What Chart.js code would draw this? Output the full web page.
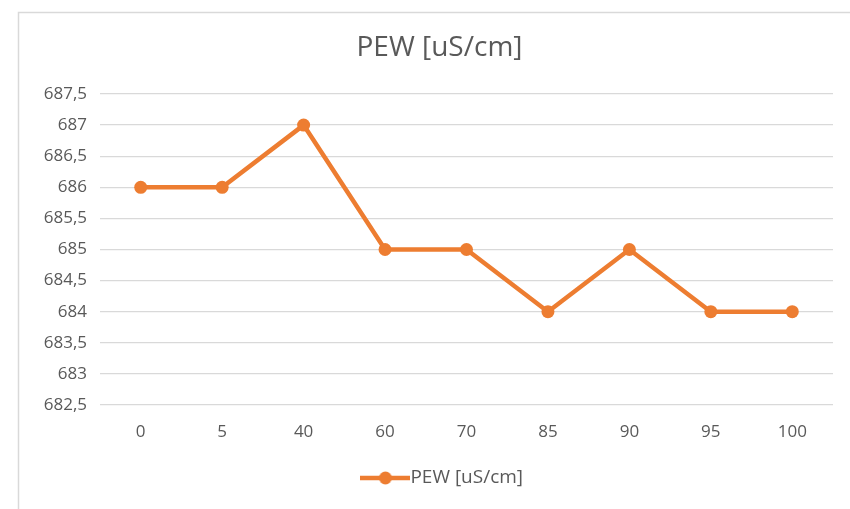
<!DOCTYPE html>
<html>
<head>
<meta charset="utf-8">
<script src="https://cdn.jsdelivr.net/npm/chart.js@4.4.1/dist/chart.umd.min.js"></script>
<style>
  html, body { margin: 0; padding: 0; background: #ffffff; }
  #wrap { width: 850px; height: 509px; position: relative; }
</style>
</head>
<body>
<div id="wrap"><canvas id="c" width="850" height="509"></canvas></div>
<script>
const categories = ['0', '5', '40', '60', '70', '85', '90', '95', '100'];
const pewValues = [686, 686, 687, 685, 685, 684, 685, 684, 684];
const seriesLabel = 'PEW [uS/cm]';
const chartTitle = 'PEW [uS/cm]';
const yMin = 682.5, yMax = 687.5, yStep = 0.5;

const ORANGE = '#ED7D31';
const TEXT = '#595959';
const FONT = "'Open Sans', sans-serif";

// legend marker: line with a dot
const marker = document.createElement('canvas');
marker.width = 50; marker.height = 14;
(function () {
  const m = marker.getContext('2d');
  m.strokeStyle = ORANGE; m.lineWidth = 4.5;
  m.beginPath(); m.moveTo(0, 7); m.lineTo(50, 7); m.stroke();
  m.fillStyle = ORANGE;
  m.beginPath(); m.arc(25, 7, 6.5, 0, Math.PI * 2); m.fill();
})();

const borderPlugin = {
  id: 'bgBorder',
  beforeDraw(chart) {
    const ctx = chart.ctx;
    ctx.save();
    ctx.fillStyle = '#ffffff';
    ctx.fillRect(0, 0, chart.width, chart.height);
    ctx.strokeStyle = '#d9d9d9';
    ctx.lineWidth = 1.5;
    ctx.strokeRect(18.5, 12.5, 1000, 1000);
    ctx.restore();
  }
};

// centre title and legend on the (partly cropped) chart frame
const boxShift = {
  id: 'boxShift',
  afterLayout(chart) {
    const lg = chart.legend;
    if (lg) { lg.left += 30; lg.right += 30; }
    const tt = chart.titleBlock;
    if (tt) { tt.left += 23; tt.right += 23; }
  }
};

new Chart(document.getElementById('c'), {
  type: 'line',
  data: {
    labels: categories,
    datasets: [{
      label: seriesLabel,
      data: pewValues,
      borderColor: ORANGE,
      backgroundColor: ORANGE,
      borderWidth: 4.5,
      pointRadius: 6.5,
      pointHoverRadius: 6.5,
      pointBackgroundColor: ORANGE,
      pointBorderColor: ORANGE,
      pointBorderWidth: 0,
      tension: 0,
      pointStyle: 'circle'
    }]
  },
  options: {
    responsive: false,
    animation: false,
    devicePixelRatio: 1,
    layout: { padding: { top: 20, left: 0, right: 17, bottom: 11.5 } },
    plugins: {
      title: {
        display: true,
        text: chartTitle,
        color: TEXT,
        font: { family: FONT, size: 28, weight: 'normal', lineHeight: 1.2 },
        padding: { top: 11, bottom: 29.4 }
      },
      legend: {
        display: true,
        position: 'bottom',
        labels: {
          color: TEXT,
          font: { family: FONT, size: 19 },
          usePointStyle: true,
          pointStyleWidth: 31,
          padding: 21.5,
          generateLabels(chart) {
            return [{
              text: seriesLabel,
              pointStyle: marker,
              fillStyle: ORANGE,
              strokeStyle: ORANGE,
              lineWidth: 0,
              datasetIndex: 0,
              fontColor: TEXT
            }];
          }
        }
      },
      tooltip: { enabled: false }
    },
    scales: {
      x: {
        offset: true,
        grid: { display: false, drawTicks: false },
        border: { display: false },
        afterFit(scale) { scale.height = 42; },
        ticks: { color: TEXT, font: { family: FONT, size: 17, lineHeight: 1.2 }, padding: 17 }
      },
      y: {
        min: yMin,
        max: yMax,
        grid: { color: '#d9d9d9', lineWidth: 1.3, drawTicks: false },
        border: { display: false },
        afterFit(scale) { scale.width = 100; },
        ticks: {
          stepSize: yStep,
          color: TEXT,
          font: { family: FONT, size: 17 },
          padding: 13,
          callback(v) { return String(v).replace('.', ','); }
        }
      }
    }
  },
  plugins: [borderPlugin, boxShift]
});
</script>
</body>
</html>
